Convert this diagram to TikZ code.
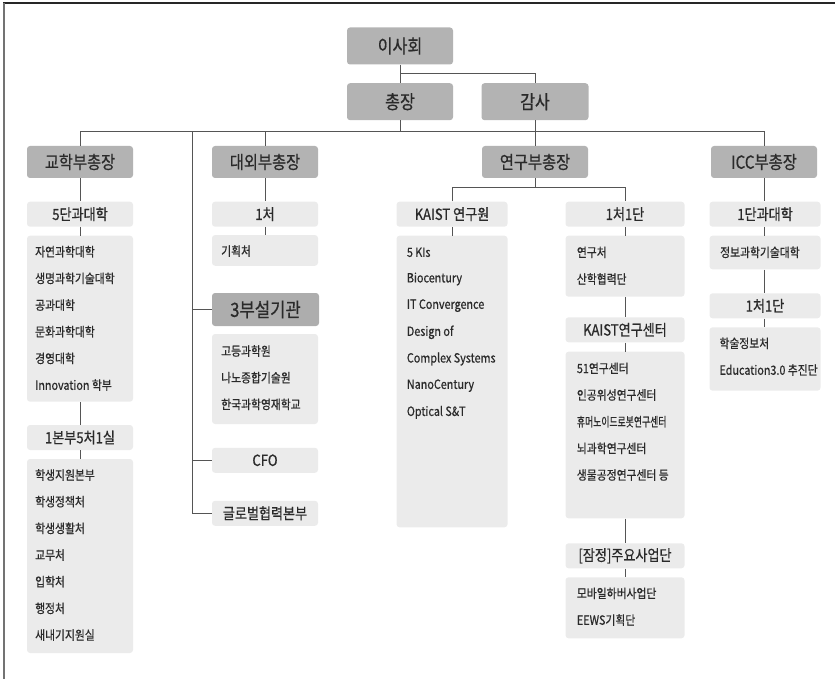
\documentclass[tikz,border=0pt]{standalone}
\usepackage{fontspec}
\setmainfont{Noto Sans CJK KR}[FakeStretch=0.85,FakeBold=0.6]
\usepackage{graphicx}
\definecolor{hdrgray}{HTML}{B3B3B3}
\definecolor{subgray}{HTML}{ADADAD}
\definecolor{light}{HTML}{EBEBEB}
\definecolor{txt}{HTML}{2A2A2A}
\definecolor{linegray}{HTML}{555555}
\tikzset{
  box/.style={rounded corners=3pt, inner sep=0pt, text=txt, align=center},
  hdr/.style={box, fill=hdrgray, minimum width=106pt, minimum height=37pt, font=\fontsize{19}{21}\selectfont},
  vp/.style={hdr, minimum height=32pt, font=\fontsize{18}{20}\selectfont},
  subbox/.style={box, fill=light, minimum height=25pt, font=\fontsize{15.4}{17}\selectfont},
  lstbox/.style={box, fill=light},
  item/.style={anchor=west, inner sep=0pt, text=txt, font=\fontsize{12.7}{14}\selectfont},
  conn/.style={draw=linegray, line width=1pt}
}
\begin{document}
\begin{tikzpicture}[x=1pt,y=-1pt]
\useasboundingbox (0,0) rectangle (835,679);
% frame
\draw[line width=2pt, color=black!85] (3,3) -- (835,3);
\draw[line width=1.2pt, color=black!55] (4,3) -- (4,679);

% top
\node[hdr] (isa) at (400,46) {이사회};
\node[hdr] (chong) at (400,101.7) {총장};
\node[hdr, minimum width=107pt] (gamsa) at (535,101.7) {감사};
\node[vp] (vp1) at (80,162) {교학부총장};
\node[vp] (vp2) at (265,162) {대외부총장};
\node[vp] (vp3) at (535,162) {연구부총장};
\node[vp] (vp4) at (764,162) {ICC부총장};

\coordinate (j1) at (400,74);
\coordinate (bus) at (400,132);
\coordinate (side) at (192,132);
\coordinate (rbus) at (535,188);

\draw[conn] (isa.south) -- (chong.north);
\draw[conn] (j1) -| (gamsa.north);
\draw[conn] (chong.south) -- (chong.south |- bus);
\draw[conn] (vp1.north) -- (vp1.north |- bus) -- (vp4.north |- bus) -- (vp4.north);
\draw[conn] (vp2.north) -- (vp2.north |- bus);
\draw[conn] (gamsa.south) -- (vp3.north);

% left column
\node[subbox, minimum width=106pt] (c5) at (80,214.2) {5단과대학};
\node[lstbox, minimum width=106pt, minimum height=166pt] (l1) at (80,318.7) {};
\foreach \t [count=\i from 0] in {자연과학대학,생명과학기술대학,공과대학,문화과학대학,경영대학,Innovation 학부}
  \node[item] (l1i\i) at (35,{251.7+26.67*\i}) {\t};
\node[subbox, minimum width=106pt] (b1) at (80,437.5) {1본부5처1실};
\node[lstbox, minimum width=106pt, minimum height=194pt] (l2) at (80,556) {};
\foreach \t [count=\i from 0] in {학생지원본부,학생정책처,학생생활처,교무처,입학처,행정처,새내기지원실}
  \node[item] (l2i\i) at (35,{475+26.67*\i}) {\t};
\draw[conn] (vp1.south) -- (c5.north);
\draw[conn] (c5.south) -- (l1.north);
\draw[conn] (l1.south) -- (b1.north);
\draw[conn] (b1.south) -- (l2.north);

% middle column
\node[subbox, minimum width=106pt] (ch1) at (265,214.2) {1처};
\node[lstbox, minimum width=106pt, minimum height=30.7pt] (lgh) at (265,250.4) {};
\node[item] (lghi) at (221,251) {기획처};
\node[box, fill=subgray, minimum width=107pt, minimum height=33pt, font=\fontsize{19.6}{21}\selectfont] (bu3) at (265.5,309.5) {3부설기관};
\node[lstbox, minimum width=106pt, minimum height=90pt] (lbu) at (265,379) {};
\foreach \t [count=\i from 0] in {고등과학원,나노종합기술원,한국과학영재학교}
  \node[item] (lbui\i) at (221,{351+26.67*\i}) {\t};
\node[subbox, minimum width=106pt] (cfo) at (265,460.3) {CFO};
\node[subbox, minimum width=106pt] (glob) at (265,513.3) {글로벌협력본부};
\draw[conn] (vp2.south) -- (ch1.north);
\draw[conn] (ch1.south) -- (lgh.north);
\draw[conn] (side) |- (glob.west);
\draw[conn] (side |- bu3.west) -- (bu3.west);
\draw[conn] (side |- cfo.west) -- (cfo.west);

% research column
\node[subbox, minimum width=111pt] (kr) at (452,214.2) {KAIST 연구원};
\node[lstbox, minimum width=111pt, minimum height=291.6pt] (krl) at (452,381.5) {};
\foreach \t [count=\i from 0] in {5 KIs,Biocentury,IT Convergence,Design of,Complex Systems,NanoCentury,Optical S\&T}
  \node[item] (krli\i) at (406.7,{252.3+26.67*\i}) {\t};
\node[subbox, minimum width=119pt] (r1) at (625,214.2) {1처1단};
\node[lstbox, minimum width=119pt, minimum height=61pt] (r1l) at (625,266.2) {};
\foreach \t [count=\i from 0] in {연구처,산학협력단}
  \node[item] (r1li\i) at (576.7,{252.3+26.67*\i}) {\t};
\node[subbox, minimum width=119pt] (rc) at (625,329.8) {KAIST연구센터};
\node[lstbox, minimum width=119pt, minimum height=166.6pt] (rcl) at (625,435) {};
\node[item] (rcli0) at (576.7,368.3) {51연구센터};
\node[item] (rcli1) at (576.7,395) {인공위성연구센터};
\node[item] (rcli2) at (576.7,421.7) {\scalebox{0.82}[1]{휴머노이드로봇연구센터}};
\node[item] (rcli3) at (576.7,448.3) {뇌과학연구센터};
\node[item] (rcli4) at (576.7,475) {생물공정연구센터 등};
\node[subbox, minimum width=119pt] (rs) at (625,555.8) {[잠정]주요사업단};
\node[lstbox, minimum width=119pt, minimum height=61pt] (rsl) at (625,607.8) {};
\node[item] (rsli0) at (576.7,593.3) {모바일하버사업단};
\node[item] (rsli1) at (576.7,620) {EEWS기획단};
\draw[conn] (vp3.south) -- (vp3.south |- rbus);
\draw[conn] (kr.north) -- (kr.north |- rbus) -- (r1.north |- rbus) -- (r1.north);
\draw[conn] (kr.south) -- (krl.north);
\draw[conn] (r1.south) -- (r1l.north);
\draw[conn] (r1l.south) -- (rc.north);
\draw[conn] (rc.south) -- (rcl.north);
\draw[conn] (rcl.south) -- (rs.north);
\draw[conn] (rs.south) -- (rsl.north);

% ICC column
\node[subbox, minimum width=111pt] (i1) at (765,214.2) {1단과대학};
\node[lstbox, minimum width=111pt, minimum height=33.6pt] (i1l) at (765,252.5) {};
\node[item] (i1li) at (720,252.3) {정보과학기술대학};
\node[subbox, minimum width=111pt] (i2) at (765,305.8) {1처1단};
\node[lstbox, minimum width=111pt, minimum height=63.4pt] (i2l) at (765,359) {};
\node[item] (i2li0) at (719.3,343.3) {학술정보처};
\node[item] (i2li1) at (719.3,370) {Education3.0 추진단};
\draw[conn] (vp4.south) -- (vp4.south |- i1.north);
\draw[conn] (i1.south -| vp4.south) -- (vp4.south |- i1l.north);
\draw[conn] (i1l.south -| vp4.south) -- (vp4.south |- i2.north);
\draw[conn] (i2.south -| vp4.south) -- (vp4.south |- i2l.north);
\end{tikzpicture}
\end{document}
